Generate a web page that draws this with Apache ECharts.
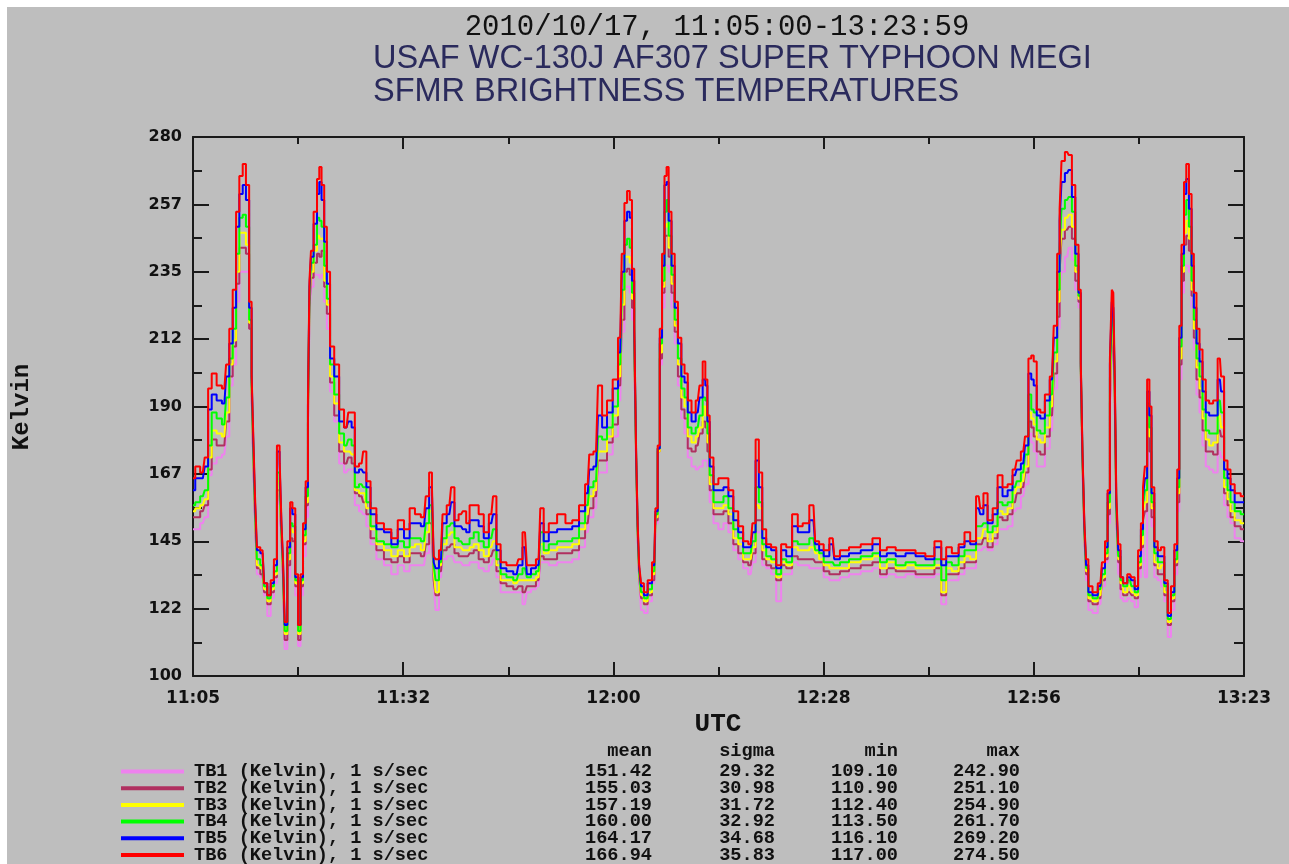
<!DOCTYPE html>
<html><head><meta charset="utf-8">
<script src="https://cdn.jsdelivr.net/npm/echarts@6/dist/echarts.min.js"></script>
<style>
html,body{margin:0;padding:0;background:#fff;width:1289px;height:864px;overflow:hidden}
#bg{position:absolute;left:7px;top:7px;right:0;bottom:0;background:#bebebe}
#chart{position:absolute;left:0;top:0;width:1289px;height:940px}
</style></head><body><div id="bg"></div><div id="chart"></div>
<script>
// ---- data (minutes after 11:05:00 UTC) ----
const timeMin = [
0,0.6,1.3,1.8,2.2,2.75,3.5,4.15,4.6,5.0,
5.5,5.9,6.35,6.8,7.2,7.65,7.85,8.1,8.3,8.6,
9.2,9.6,10.05,10.5,10.9,11.3,11.6,11.8,12.0,12.25,
12.7,13.0,13.3,13.75,14.05,14.4,14.7,15.1,15.3,15.5,
15.7,16.2,16.6,16.8,17.2,17.5,17.9,18.35,19.0,19.65,
20.3,20.75,21.2,21.6,22.3,22.7,23.15,23.8,24.7,25.8,
26.65,27.5,28.3,29.0,29.7,30.55,31.0,31.45,31.75,31.9,
32.25,32.8,33.2,33.9,34.35,34.8,35.45,35.9,36.35,36.8,
37.45,38.1,38.8,39.45,39.9,40.35,41.0,41.9,42.8,43.25,
43.9,44.4,45.0,45.7,46.15,46.6,47.5,48.8,49.7,50.6,
51.5,52.2,52.6,53.3,53.8,54.4,55.1,55.9,56.5,56.9,
57.2,57.6,57.9,58.2,58.5,58.7,58.9,59.1,59.4,59.85,
60.4,61.0,61.3,61.6,61.85,62.2,62.5,62.75,63.05,63.5,
63.9,64.35,64.8,65.2,65.65,66.2,66.75,67.2,67.6,67.9,
68.15,68.5,69.15,69.8,70.5,71.1,71.8,72.4,73.1,73.75,
74.2,74.6,75.05,75.5,76.1,76.8,77.45,78.1,78.8,79.65,
80.3,80.95,82.05,82.5,83.1,83.7,84.6,85.0,86.1,87.4,
89.2,90.5,91.2,92.3,93.55,94.9,96.2,97.5,98.6,99.3,
99.9,100.8,101.7,102.35,103.2,103.9,104.3,104.75,105.4,106.1,
106.7,107.4,108.05,108.7,109.15,109.8,110.25,110.7,111.0,111.35,
111.8,112.3,113.0,113.6,114.05,114.5,114.7,115.0,115.6,116.0,
116.45,116.9,117.3,117.5,117.75,118.0,118.2,118.6,119.3,120.0,
120.4,120.8,121.1,121.4,121.6,121.8,122.0,122.2,122.5,122.8,
123.2,123.9,124.3,124.75,125.2,125.5,125.75,126.0,126.35,126.6,
126.9,127.35,127.8,128.2,128.7,129.1,129.55,130.0,130.3,130.55,
130.9,131.2,131.5,131.9,132.2,132.5,132.9,133.3,133.7,134.15,
134.6,135.2,135.8,136.1,136.6,137.0,137.4,138.1,138.98
];
const tb6 = [
166,170,168,173,196,201,197,196,204,216,
229,255,267,271,264,225,201,180,160,143,
142,131,127,132,139,177,173,151,139,118,
145,158,156,134,117,134,151,165,192,232,
242,255,266,270,264,250,235,210,204,189,
183,188,188,170,171,175,165,156,151,149,
146,152,149,156,154,153,160,168,163,140,
139,142,154,157,163,152,154,155,151,157,
157,154,148,154,160,144,138,137,137,139,
148,137,137,139,156,148,151,154,151,152,
157,164,174,175,197,187,192,199,213,241,
258,262,259,236,218,175,151,137,131,128,
132,138,156,177,216,241,267,270,255,241,
225,213,204,201,192,188,192,197,205,199,
187,173,164,166,166,162,155,150,145,144,
151,179,168,149,144,143,137,144,143,154,
150,151,157,145,144,142,146,140,142,143,
144,146,142,143,142,142,141,140,145,139,
143,141,144,148,145,160,156,161,152,156,
167,163,164,169,172,175,180,206,207,205,
189,188,194,200,217,241,256,272,275,274,
264,244,229,205,175,151,139,130,128,131,
138,145,162,206,229,228,199,160,144,133,
131,134,133,130,142,151,163,170,199,190,
163,145,142,143,132,121,130,144,169,217,
244,265,271,261,241,228,216,209,199,192,
191,192,206,200,172,169,164,161,160
];
const tb5 = [
162,166,166,170,189,194,192,191,200,211,
223,250,261,264,259,223,200,178,158,142,
141,131,127,131,137,175,171,150,138,117,
143,156,154,133,117,133,149,163,190,230,
240,251,261,265,259,245,231,206,200,185,
183,185,183,168,169,168,163,154,149,148,
144,149,146,151,151,150,156,163,161,138,
136,139,151,154,158,150,150,149,148,152,
152,150,146,151,154,142,136,135,134,137,
143,134,136,137,151,145,148,149,149,150,
155,161,169,170,187,183,188,196,208,235,
252,255,253,232,216,174,150,136,130,127,
131,137,155,176,213,237,264,265,252,237,
223,211,200,198,188,185,188,193,199,197,
185,170,162,162,163,160,152,148,143,143,
148,172,163,146,143,142,136,142,140,150,
148,148,152,144,142,140,144,139,140,141,
142,144,140,141,140,141,140,139,143,137,
140,140,143,145,144,156,154,157,151,154,
163,160,162,167,169,171,177,201,199,197,
187,186,192,199,213,235,252,265,268,269,
260,241,228,204,174,150,137,128,127,130,
136,143,161,204,225,223,197,158,142,133,
131,133,132,129,140,149,160,166,195,187,
161,143,140,140,131,120,128,142,166,213,
241,261,266,256,237,223,211,205,195,188,
187,187,199,195,169,166,162,158,158
];
const tb4 = [
157,158,160,162,177,188,186,184,193,206,
216,241,253,254,250,219,198,176,156,139,
137,130,126,130,135,168,165,148,136,115,
141,151,150,132,115,132,147,160,188,228,
238,244,253,252,250,237,226,204,194,181,
177,179,177,163,164,163,158,150,145,144,
143,145,143,146,146,145,151,157,155,137,
132,138,146,150,151,146,145,144,144,146,
148,145,143,146,149,139,134,133,132,134,
136,133,134,135,148,142,144,145,145,146,
151,157,163,165,180,179,183,190,204,229,
244,246,243,228,214,173,149,135,128,126,
129,135,154,176,211,232,255,259,247,234,
219,206,196,193,183,181,183,187,193,192,
181,167,158,158,160,156,149,146,141,141,
145,163,158,144,140,139,134,139,138,145,
144,144,146,142,141,138,138,137,138,139,
140,141,138,139,137,138,137,137,139,132,
138,137,140,142,142,150,150,151,148,150,
158,157,158,163,165,168,174,194,189,188,
182,181,187,194,208,229,243,256,259,260,
255,237,227,203,173,149,136,127,126,129,
134,141,158,199,222,219,195,156,140,132,
130,132,130,128,138,147,157,162,191,183,
158,141,138,138,130,119,127,139,163,210,
237,254,259,250,232,219,206,200,189,182,
181,181,192,188,166,162,158,155,154
];
const tb3 = [
155,156,157,159,173,182,181,180,188,204,
212,235,248,248,244,218,196,174,155,137,
136,129,125,129,134,165,162,147,135,114,
139,149,148,131,114,131,145,158,186,226,
235,242,247,246,246,232,224,200,191,178,
175,175,174,162,161,161,156,149,144,142,
140,142,140,143,144,142,148,155,153,135,
128,137,144,147,148,143,143,142,142,143,
144,142,140,143,145,137,132,132,131,132,
132,132,132,133,144,141,142,143,143,144,
149,154,160,162,175,175,180,187,200,224,
240,240,238,226,212,172,148,134,127,125,
128,134,153,175,208,230,250,251,243,231,
217,204,193,190,180,178,180,183,190,187,
178,164,156,156,157,154,146,144,139,139,
143,157,156,142,139,138,133,138,137,143,
142,142,143,141,139,137,136,136,136,138,
139,140,136,138,136,137,136,136,137,128,
136,135,138,140,139,146,146,149,145,148,
155,154,156,161,163,165,170,188,186,184,
179,178,183,190,205,225,239,249,253,254,
250,235,226,202,172,148,135,126,125,127,
133,140,156,194,218,216,193,155,139,131,
128,130,128,127,137,144,155,158,187,180,
156,138,136,137,128,118,126,138,161,206,
235,248,252,246,229,216,203,196,186,179,
177,178,187,183,163,159,155,152,151
];
const tb2 = [
153,153,155,157,169,179,177,177,185,200,
210,231,243,243,241,216,195,172,153,136,
134,128,124,128,133,162,160,146,134,112,
137,146,145,130,112,130,144,157,184,223,
233,238,241,240,242,230,221,198,187,175,
171,173,171,161,160,158,154,146,142,139,
138,140,138,141,141,140,144,151,149,132,
127,135,142,143,144,141,140,140,140,141,
142,139,138,140,142,135,131,130,129,130,
128,130,130,132,140,139,139,141,141,142,
146,151,156,160,172,172,178,184,197,219,
235,236,234,223,210,171,147,133,126,124,
127,132,152,175,206,228,247,247,240,228,
215,200,189,186,176,175,177,181,185,183,
175,162,154,154,155,151,144,141,138,137,
141,152,152,139,137,136,132,137,136,140,
139,139,139,138,138,135,134,134,135,136,
137,138,134,136,135,135,134,134,136,127,
134,134,136,138,138,144,144,146,143,146,
153,152,154,158,161,163,168,185,183,180,
175,174,180,187,201,220,235,246,249,250,
246,232,225,201,171,147,134,125,124,126,
132,139,154,191,214,212,191,154,138,129,
127,128,127,126,136,143,152,155,184,175,
153,137,134,134,127,117,125,137,158,204,
232,244,247,242,227,213,199,193,182,175,
175,174,182,180,161,157,153,150,149
];
const tb1 = [
149,149,151,153,167,171,173,174,180,197,
204,225,235,235,235,216,194,170,152,134,
133,127,120,126,131,158,157,144,132,109,
133,143,141,127,110,127,140,153,181,220,
230,234,234,233,234,225,216,195,185,171,
168,169,169,157,155,154,150,144,139,137,
134,137,135,137,137,137,141,149,146,131,
122,133,139,140,140,138,138,137,137,138,
138,136,135,137,139,133,128,128,128,128,
124,128,129,130,138,138,137,138,138,139,
143,148,153,156,168,168,174,180,192,215,
230,230,228,219,208,170,146,132,122,121,
125,131,151,175,204,223,237,237,235,223,
211,197,186,181,173,170,169,170,172,172,
170,158,151,149,151,148,142,139,136,134,
138,148,148,137,136,134,125,134,134,138,
137,137,136,136,136,133,132,132,133,134,
135,136,133,134,133,134,133,133,134,124,
132,132,134,136,136,142,142,143,142,144,
149,149,150,155,156,160,164,181,178,175,
170,170,176,182,196,216,229,235,240,243,
239,229,223,200,170,146,132,122,121,124,
130,138,151,187,211,208,191,152,134,126,
125,126,125,123,133,141,145,133,179,169,
150,133,132,130,125,113,122,134,155,199,
228,237,237,235,223,209,194,188,177,170,
169,168,175,173,157,153,151,146,145
];
const seriesNames = ['TB1 (Kelvin), 1 s/sec','TB2 (Kelvin), 1 s/sec','TB3 (Kelvin), 1 s/sec',
                     'TB4 (Kelvin), 1 s/sec','TB5 (Kelvin), 1 s/sec','TB6 (Kelvin), 1 s/sec'];
const seriesValues = [tb1, tb2, tb3, tb4, tb5, tb6];
const statMean  = ['151.42','155.03','157.19','160.00','164.17','166.94'];
const statSigma = ['29.32','30.98','31.72','32.92','34.68','35.83'];
const statMin   = ['109.10','110.90','112.40','113.50','116.10','117.00'];
const statMax   = ['242.90','251.10','254.90','261.70','269.20','274.50'];
const statHeaders = ['mean','sigma','min','max'];
const xTickLabels = ['11:05','11:32','12:00','12:28','12:56','13:23'];
const yTickLabels = ['100','122','145','167','190','212','235','257','280'];
const titleLines = ['2010/10/17, 11:05:00-13:23:59','USAF WC-130J AF307 SUPER TYPHOON MEGI','SFMR BRIGHTNESS TEMPERATURES'];
const xAxisTitle = 'UTC';
const yAxisTitle = 'Kelvin';

// ---- styling ----
const colors = ['#ee82ee','#b03060','#ffff00','#00ff00','#0000ff','#ff0000'];
const xMax = 8339/60;           // 11:05:00 -> 13:23:59
const xInterval = xMax/5;
const yMin = 100, yMax = 280, yInterval = 22.5;
const axisColor = '#1a1a1a';
const lab = {fontFamily:'DejaVu Sans', fontWeight:'bold', fontSize:16, color:'#111'};
const mono = {fontFamily:'Liberation Mono', fontWeight:'bold', fontSize:18.6, color:'#111'};
const legendTop0 = 762, legendRow = 16.7;

const chart = echarts.init(document.getElementById('chart'), null, {renderer:'canvas', width:1289, height:940});

const xBase = {type:'value', min:0, max:xMax, interval:xInterval,
  axisLine:{show:true, onZero:false, lineStyle:{color:axisColor,width:2}},
  splitLine:{show:false}, minorSplitLine:{show:false}};
const yBase = {type:'value', min:yMin, max:yMax, interval:yInterval,
  axisLine:{show:true, onZero:false, lineStyle:{color:axisColor,width:2}},
  splitLine:{show:false}, minorSplitLine:{show:false}};

const legendRich = {
  n:{...mono, width:395, padding:[0,0,0,5], align:'left'},
  m:{...mono, width:63, align:'right'},
  s:{...mono, width:123, align:'right'},
  mi:{...mono, width:123, align:'right'},
  ma:{...mono, width:122, align:'right'}
};
const headerX = [652, 775, 898, 1020];

const option = {
  animation:false,
  backgroundColor:'transparent',
  grid:{left:193, top:137, right:45, bottom:940-676, containLabel:false},
  xAxis:[
    {...xBase, position:'bottom',
      axisTick:{show:true, inside:true, length:14, lineStyle:{color:axisColor,width:2}},
      minorTick:{show:true, splitNumber:2, length:9, lineStyle:{color:axisColor,width:2}},
      axisLabel:{...lab, fontSize:17, margin:14, showMinLabel:true, showMaxLabel:true,
        formatter:v => xTickLabels[Math.round(v/xInterval)]}},
    {...xBase, position:'top',
      axisTick:{show:true, inside:true, length:12, lineStyle:{color:axisColor,width:2}},
      minorTick:{show:true, splitNumber:2, length:7, lineStyle:{color:axisColor,width:2}},
      axisLabel:{show:false}}
  ],
  yAxis:[
    {...yBase, position:'left',
      axisTick:{show:true, inside:true, length:16, lineStyle:{color:axisColor,width:2}},
      minorTick:{show:true, splitNumber:2, length:9, lineStyle:{color:axisColor,width:2}},
      axisLabel:{...lab, margin:11, showMinLabel:true, showMaxLabel:true,
        formatter:v => yTickLabels[Math.round((v-yMin)/yInterval)]}},
    {...yBase, position:'right',
      axisTick:{show:true, inside:true, length:16, lineStyle:{color:axisColor,width:2}},
      minorTick:{show:true, splitNumber:2, length:10, lineStyle:{color:axisColor,width:2}},
      axisLabel:{show:false}}
  ],
  legend: seriesNames.map((nm, i) => ({
    orient:'vertical', left:121, top:legendTop0 + i*legendRow, padding:0, itemGap:0,
    itemWidth:63, itemHeight:4, icon:'rect', selectedMode:false,
    data:[nm],
    formatter:name => {
      const k = seriesNames.indexOf(name);
      return '{n|'+name+'}{m|'+statMean[k]+'}{s|'+statSigma[k]+'}{mi|'+statMin[k]+'}{ma|'+statMax[k]+'}';
    },
    textStyle:{...mono, rich:legendRich}
  })),
  graphic:[
    {type:'text', x:717, y:27, style:{text:titleLines[0], font:'29px "Liberation Mono"', fill:'#111',
      textAlign:'center', textVerticalAlign:'middle', align:'center', verticalAlign:'middle'}},
    {type:'text', x:373, y:59, style:{text:titleLines[1], font:'32.5px "Liberation Sans"', fill:'#2a2a5c',
      textAlign:'left', textVerticalAlign:'middle', align:'left', verticalAlign:'middle'}},
    {type:'text', x:373, y:92, style:{text:titleLines[2], font:'32.5px "Liberation Sans"', fill:'#2a2a5c',
      textAlign:'left', textVerticalAlign:'middle', align:'left', verticalAlign:'middle'}},
    {type:'text', x:718, y:724, style:{text:xAxisTitle, font:'bold 26px "Liberation Mono"', fill:'#111',
      textAlign:'center', textVerticalAlign:'middle', align:'center', verticalAlign:'middle'}},
    {type:'text', x:22, y:407, rotation:Math.PI/2, style:{text:yAxisTitle, font:'bold 24px "Liberation Mono"', fill:'#111',
      textAlign:'center', textVerticalAlign:'middle', align:'center', verticalAlign:'middle'}}
  ].concat(statHeaders.map((h,i) => ({type:'text', x:headerX[i], y:751,
      style:{text:h, font:'bold 18.6px "Liberation Mono"', fill:'#111',
        textAlign:'right', textVerticalAlign:'middle', align:'right', verticalAlign:'middle'}}))),
  series: seriesValues.map((vals, k) => ({
    name:seriesNames[k], type:'line', xAxisIndex:0, yAxisIndex:0,
    data: timeMin.map((t,i) => [t, vals[i]]),
    step:'middle', showSymbol:false, symbol:'none', clip:true,
    itemStyle:{color:colors[k]},
    lineStyle:{color:colors[k], width:2},
    emphasis:{disabled:true}
  }))
};
chart.setOption(option);
</script></body></html>
